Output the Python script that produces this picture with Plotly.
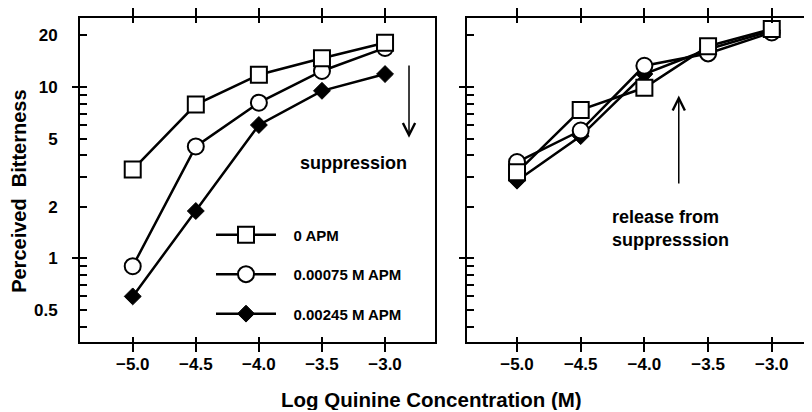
import plotly.graph_objects as go

# ---- data ----
log_conc = [-5.0, -4.5, -4.0, -3.5, -3.0]
x_tick_labels = ["\u22125.0", "\u22124.5", "\u22124.0", "\u22123.5", "\u22123.0"]

left_0_apm = [3.30, 7.9, 11.8, 14.7, 18.1]
left_00075_apm = [0.90, 4.5, 8.1, 12.4, 16.9]
left_00245_apm = [0.60, 1.89, 6.0, 9.5, 11.9]

right_0_apm = [3.18, 7.35, 9.9, 17.3, 21.8]
right_00075_apm = [3.65, 5.57, 13.3, 15.7, 20.8]
right_00245_apm = [2.84, 5.17, 11.9, 16.6, 21.3]

series_names = ["0 APM", "0.00075 M APM", "0.00245 M APM"]

y_minor_ticks = [0.4, 0.5, 0.6, 0.7, 0.8, 0.9, 1, 2, 3, 4, 5, 6, 7, 8, 9, 10, 20]
y_labelled = {0.5: "0.5", 1: "1", 2: "2", 5: "5", 10: "10", 20: "20"}
y_major_ticks = [1, 10]

FONT = "Liberation Sans, Arial, Helvetica, sans-serif"
OFF_X, OFF_Y = 8, 10          # page offset of the plot div
W, H = 812 - OFF_X, 412 - OFF_Y

def px_x(p):
    return (p - OFF_X) / W

def px_y(p):
    return 1 - (p - OFF_Y) / H

fig = go.Figure()

styles = [
    dict(symbol="square", size=16, color="white", line=dict(width=2, color="black")),
    dict(symbol="circle", size=16, color="white", line=dict(width=2, color="black")),
    dict(symbol="diamond", size=13, color="black", line=dict(width=1, color="black")),
]

left_sets = [left_0_apm, left_00075_apm, left_00245_apm]
right_sets = [right_0_apm, right_00075_apm, right_00245_apm]
legend_pad = "\u00a0\u00a0\u00a0"

# draw order: diamonds first, then circles, squares on top
for idx in [2, 1, 0]:
    fig.add_trace(go.Scatter(
        x=log_conc, y=left_sets[idx], mode="lines+markers",
        name=legend_pad + series_names[idx], legendrank=idx + 1,
        legendgroup=series_names[idx],
        line=dict(color="black", width=2.5), marker=styles[idx],
        xaxis="x", yaxis="y", cliponaxis=False,
    ))
for idx in [2, 1, 0]:
    fig.add_trace(go.Scatter(
        x=log_conc, y=right_sets[idx], mode="lines+markers",
        showlegend=False,
        line=dict(color="black", width=2.5), marker=styles[idx],
        xaxis="x2", yaxis="y2", cliponaxis=False,
    ))

# empty helper traces so overlay tick axes are drawn
for xa, ya in [("x3", "y"), ("x", "y3"), ("x4", "y2"), ("x2", "y4")]:
    fig.add_trace(go.Scatter(x=[None], y=[None], xaxis=xa, yaxis=ya,
                             showlegend=False, hoverinfo="skip"))

xr_left = [-5.418, -2.604]
xr_right = [-5.395, -2.684]
yr = [-0.489, 1.400]
dom_left = [px_x(80), px_x(435)]
dom_right = [px_x(466.7), 1.0]
dom_y = [px_y(343), px_y(13.5)]

tickfont = dict(family=FONT, size=17, color="black", weight="bold")

fig.update_layout(
    width=W, height=H, autosize=False,
    margin=dict(l=0, r=0, t=0, b=0),
    paper_bgcolor="white", plot_bgcolor="white",
    font=dict(family=FONT, color="black"),
    xaxis=dict(domain=dom_left, range=xr_left, anchor="y", showgrid=False, zeroline=False,
               showline=True, linecolor="black", linewidth=2, mirror="allticks",
               ticks="outside", ticklen=8, tickwidth=1.5, tickcolor="black",
               tickvals=log_conc, ticktext=x_tick_labels, tickfont=tickfont,
               ticklabelstandoff=-3),
    xaxis3=dict(overlaying="x", anchor="y", range=xr_left, showgrid=False, zeroline=False,
                showline=False, mirror="allticks", ticks="inside", ticklen=5, tickwidth=1.5,
                tickcolor="black", tickvals=log_conc, showticklabels=False),
    xaxis2=dict(domain=dom_right, range=xr_right, anchor="y2", showgrid=False, zeroline=False,
                showline=True, linecolor="black", linewidth=2, mirror="allticks",
                ticks="outside", ticklen=8, tickwidth=1.5, tickcolor="black",
                tickvals=log_conc, ticktext=x_tick_labels, tickfont=tickfont,
                ticklabelstandoff=-3),
    xaxis4=dict(overlaying="x2", anchor="y2", range=xr_right, showgrid=False, zeroline=False,
                showline=False, mirror="allticks", ticks="inside", ticklen=5, tickwidth=1.5,
                tickcolor="black", tickvals=log_conc, showticklabels=False),
    yaxis=dict(domain=dom_y, type="log", range=yr, anchor="x", showgrid=False, zeroline=False,
               showline=True, linecolor="black", linewidth=2, mirror=True,
               ticks="inside", ticklen=7, tickwidth=1.5, tickcolor="black",
               tickvals=y_minor_ticks,
               ticktext=[y_labelled.get(v, "") for v in y_minor_ticks],
               tickfont=tickfont, ticklabelstandoff=17),
    yaxis3=dict(overlaying="y", anchor="x", type="log", range=yr, showgrid=False,
                zeroline=False, showline=False, ticks="outside", ticklen=7, tickwidth=1.5,
                tickcolor="black", tickvals=y_major_ticks, showticklabels=False),
    yaxis2=dict(domain=dom_y, type="log", range=yr, anchor="x2", showgrid=False, zeroline=False,
                showline=True, linecolor="black", linewidth=2, mirror=False,
                ticks="inside", ticklen=7, tickwidth=1.5, tickcolor="black",
                tickvals=y_minor_ticks, showticklabels=False),
    yaxis4=dict(overlaying="y2", anchor="x2", type="log", range=yr, showgrid=False,
                zeroline=False, showline=False, ticks="outside", ticklen=7, tickwidth=1.5,
                tickcolor="black", tickvals=y_major_ticks, showticklabels=False),
    legend=dict(x=px_x(211), y=px_y(217), xanchor="left", yanchor="top",
                bgcolor="rgba(0,0,0,0)", borderwidth=0,
                font=dict(family=FONT, size=15, color="black", weight="bold"),
                traceorder="grouped", tracegroupgap=17, itemwidth=60),
    showlegend=True,
)

# axis titles
fig.add_annotation(text="Log Quinine Concentration (M)", xref="paper", yref="paper",
                   x=px_x(431), y=px_y(401), xanchor="center", yanchor="middle",
                   showarrow=False,
                   font=dict(family=FONT, size=20.5, color="black", weight="bold"))
fig.add_annotation(text="Perceived\u00a0\u00a0Bitterness", xref="paper", yref="paper",
                   x=px_x(19), y=px_y(190), xanchor="center", yanchor="middle",
                   showarrow=False, textangle=-90,
                   font=dict(family=FONT, size=20, color="black", weight="bold"))

# suppression arrow + label (left panel)
fig.add_annotation(x=-2.81, y=0.7036, ax=-2.81, ay=1.134, xref="x", yref="y",
                   axref="x", ayref="y", text="", showarrow=True, arrowhead=5,
                   arrowsize=1.6, arrowwidth=1.5, arrowcolor="black")
fig.add_annotation(text="suppression", x=-3.25, y=0.5545, xref="x", yref="y",
                   xanchor="center", yanchor="middle", showarrow=False,
                   font=dict(family=FONT, size=18, color="black", weight="bold"))

# release arrow + label (right panel)
fig.add_annotation(x=-3.73, y=0.950, ax=-3.73, ay=0.428, xref="x2", yref="y2",
                   axref="x2", ayref="y2", text="", showarrow=True, arrowhead=5,
                   arrowsize=1.6, arrowwidth=1.5, arrowcolor="black")
fig.add_annotation(text="release from<br>suppresssion", x=-4.27, y=0.173, xref="x2",
                   yref="y2", xanchor="left", yanchor="middle", align="left",
                   showarrow=False,
                   font=dict(family=FONT, size=18, color="black", weight="bold"))

fig.write_html("out.html")
